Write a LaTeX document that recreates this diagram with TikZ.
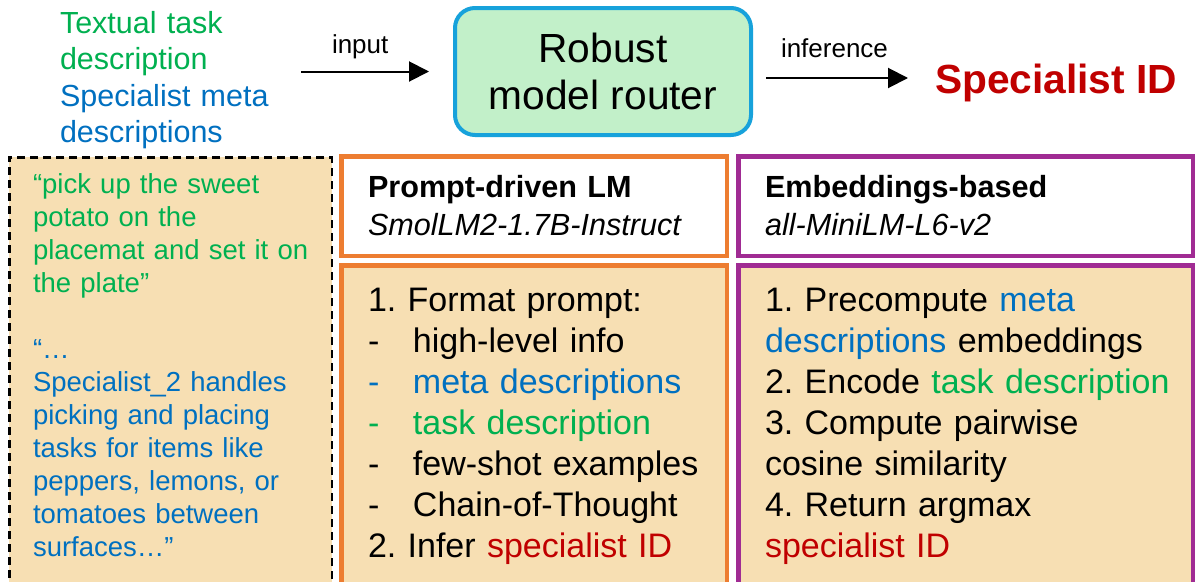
\documentclass[tikz,border=0pt]{standalone}
\usepackage{fontspec}
\setmainfont{Liberation Sans}
\usetikzlibrary{arrows.meta}
\definecolor{tgreen}{HTML}{00B050}
\definecolor{tblue}{HTML}{0070C0}
\definecolor{tred}{HTML}{C00000}
\definecolor{torange}{HTML}{ED7D31}
\definecolor{tpurple}{HTML}{A02B93}
\definecolor{rblue}{HTML}{17A2DB}
\definecolor{rfill}{HTML}{C2F0C9}
\definecolor{wheat}{HTML}{F7DFB3}
\newcommand\fsz[2]{\fontsize{#1}{#2}\selectfont}
\newcommand\lstdash{\makebox[45pt][l]{-}}
\frenchspacing
\begin{document}
\begin{tikzpicture}[x=1pt,y=-1pt,
  every node/.style={inner sep=0pt, outer sep=0pt},
  arr/.style={line width=2pt, -{Triangle[length=20pt,width=20pt]}},
  txt/.style={anchor=base west, text width=#1, align=left},
  router/.style={draw=rblue, line width=4pt, fill=rfill, rounded corners=20pt,
    minimum width=296pt, minimum height=127pt, align=center, font=\fsz{40.7}{47}},
  exbox/.style={draw=black, line width=2.5pt, dash pattern=on 8pt off 5pt, fill=wheat,
    anchor=north west, minimum width=322.5pt, minimum height=450pt},
  hdrbox/.style={draw=#1, line width=4.5pt, fill=white, anchor=north west, minimum height=99.5pt},
  bodybox/.style={draw=#1, line width=4.5pt, fill=wheat, anchor=north west, minimum height=340pt},
  lbl/.style={anchor=base west, font=\fsz{26}{31}}
]
\useasboundingbox (0,0) rectangle (1196,581);
\clip (0,0) rectangle (1196,581);
\fill[white] (0,0) rectangle (1196,581);

% top row
\node[txt=260pt, font=\fsz{30.5}{36.5}] (intext) at (60,33)
  {\color{tgreen}Textual task\\description\\\color{tblue}Specialist meta\\descriptions};
\node[router] (router) at (603,71.5) {Robust\\model router};
\node[lbl] (inlbl) at (332,53) {input};
\node[lbl] (inflbl) at (781,57) {inference};
\node[anchor=base west, font=\fsz{40.7}{48}\bfseries, text=tred] (sid) at (935,93) {Specialist ID};
\coordinate (inS) at (301,71.5);
\draw[arr, shorten >=26pt] (inS) -- (router.west);
\coordinate (infS) at (766,78);
\coordinate (infE) at (908,78);
\draw[arr] (infS) -- (infE);

% example box
\node[exbox] (ex) at (9.25,157.25) {};
\node[txt=300pt, font=\fsz{27.5}{33}, text=tgreen] (extask) at (33,193)
  {“pick up the sweet\\potato on the\\placemat and set it on\\the plate”};
\node[txt=300pt, font=\fsz{27.5}{33}, text=tblue] (exmeta) at (33,358)
  {“…\\Specialist\_2 handles\\picking and placing\\tasks for items like\\peppers, lemons, or\\tomatoes between\\surfaces…”};

% prompt-driven LM
\node[hdrbox=torange, minimum width=385.5pt] (ohdr) at (341.25,156.25) {};
\node[txt=370pt, font=\fsz{30.6}{38}] (ohtext) at (368,197)
  {{\bfseries Prompt-driven LM}\\{\itshape SmolLM2-1.7B-Instruct}};
\node[bodybox=torange, minimum width=385.5pt] (obody) at (341.25,265.25) {};
\node[txt=370pt, font=\fsz{34}{41}] (obtext) at (368,311)
  {1. Format prompt:\\
   \lstdash high-level info\\
   {\color{tblue}\lstdash meta descriptions}\\
   {\color{tgreen}\lstdash task description}\\
   \lstdash few-shot examples\\
   \lstdash Chain-of-Thought\\
   2. Infer {\color{tred}specialist ID}};

% embeddings-based
\node[hdrbox=tpurple, minimum width=454.5pt] (phdr) at (738.25,156.25) {};
\node[txt=420pt, font=\fsz{30.6}{38}] (phtext) at (765,197)
  {{\bfseries Embeddings-based}\\{\itshape all-MiniLM-L6-v2}};
\node[bodybox=tpurple, minimum width=454.5pt] (pbody) at (738.25,265.25) {};
\node[txt=420pt, font=\fsz{34}{41}] (pbtext) at (765,311)
  {1. Precompute {\color{tblue}meta}\\
   {\color{tblue}descriptions} embeddings\\
   2. Encode {\color{tgreen}task description}\\
   3. Compute pairwise\\
   cosine similarity\\
   4. Return argmax\\
   {\color{tred}specialist ID}};
\end{tikzpicture}
\end{document}
